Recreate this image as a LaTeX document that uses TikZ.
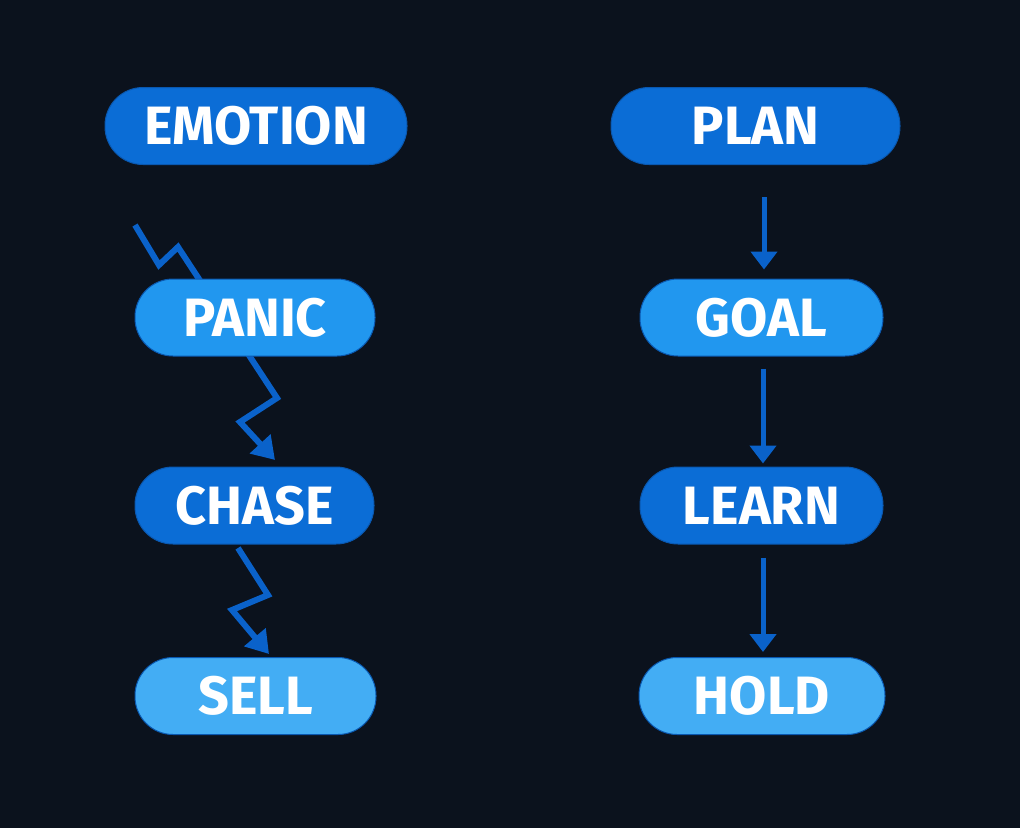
\documentclass[tikz,border=0pt]{standalone}
\usepackage{fontspec}
\setmainfont{Fira Sans}
\usetikzlibrary{arrows.meta}
\pgfdeclarelayer{back}
\pgfsetlayers{back,main}
\definecolor{bg}{HTML}{0B121D}
\definecolor{darkb}{HTML}{0B6DD6}
\definecolor{midb}{HTML}{2197EF}
\definecolor{lightb}{HTML}{43ADF4}
\definecolor{arr}{HTML}{0A62CA}
\definecolor{edge}{HTML}{0A58B0}
\tikzset{
  pill/.style={draw=edge, line width=1pt, rounded corners=38pt, minimum height=77pt,
    text=white, font=\fontsize{54}{60}\selectfont\bfseries, inner sep=0pt},
  darkpill/.style={pill, fill=darkb},
  midpill/.style={pill, fill=midb},
  lightpill/.style={pill, fill=lightb},
  straight/.style={draw=arr, line width=5pt, -{Triangle[width=26pt,length=18pt]}},
  zig/.style={draw=arr, line width=6pt, line join=miter, -{Triangle[width=27pt,length=22pt]}}
}
\begin{document}
\begin{tikzpicture}[x=1pt,y=-1pt]
\begin{pgfonlayer}{back}
\fill[bg] (0,0) rectangle (1020,828);
\end{pgfonlayer}
\useasboundingbox (0,0) rectangle (1020,828);
\node[darkpill, minimum width=302pt] (emotion) at (256,126) {EMOTION};
\node[darkpill, minimum width=289pt] (plan) at (755.5,126) {PLAN};
\node[midpill, minimum width=240pt] (panic) at (255,317.5) {PANIC};
\node[midpill, minimum width=243pt] (goal) at (761.5,317.5) {GOAL};
\node[darkpill, minimum width=239pt] (chase) at (254.5,505.5) {CHASE};
\node[darkpill, minimum width=243pt] (learn) at (761.5,505.5) {LEARN};
\node[lightpill, minimum width=241pt] (sell) at (255.5,696) {SELL};
\node[lightpill, minimum width=246pt] (hold) at (762,696) {HOLD};
% zigzag waypoints
\coordinate (z1s) at (135,225);
\coordinate (z1a) at (159,265);
\coordinate (z1b) at (178,247);
\coordinate (z1c) at (277,398);
\coordinate (z1d) at (240,422);
\coordinate (z1e) at (275,460);
\coordinate (z2s) at (238,548);
\coordinate (z2a) at (268,595);
\coordinate (z2b) at (232,610);
\coordinate (z2e) at (269,654);
\begin{pgfonlayer}{back}
\draw[zig] (z1s) -- (z1a) -- (z1b) -- (z1c) -- (z1d) -- (z1e);
\draw[zig] (z2s) -- (z2a) -- (z2b) -- (z2e);
\end{pgfonlayer}
\coordinate (c1) at (764,0);
\coordinate (c2) at (763,0);
\draw[straight] ([yshift=-32pt]plan.south -| c1) -- ([yshift=9pt]goal.north -| c1);
\draw[straight] ([yshift=-12pt]goal.south -| c2) -- ([yshift=3pt]learn.north -| c2);
\draw[straight] ([yshift=-13pt]learn.south -| c2) -- ([yshift=5pt]hold.north -| c2);
\end{tikzpicture}
\end{document}
